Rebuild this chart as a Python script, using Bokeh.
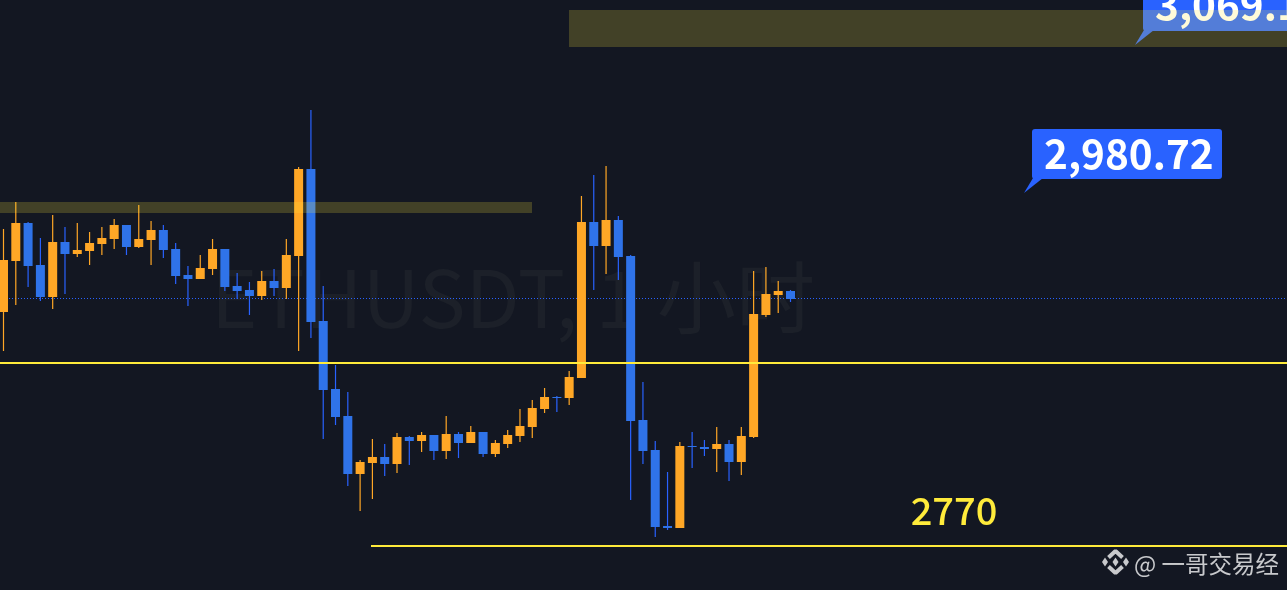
from bokeh.plotting import figure
from bokeh.embed import file_html
from bokeh.resources import INLINE
from bokeh.core.properties import value

opens = [2910.4,2941.0,2963.8,2938.6,2919.4,2952.4,2945.2,2947.0,2951.2,2954.2,2962.6,2949.4,2953.6,2959.6,2948.2,2932.6,2930.2,2936.2,2948.2,2926.0,2923.6,2920.0,2929.0,2924.8,2944.0,2996.2,2905.0,2864.2,2848.0,2813.2,2819.8,2823.4,2819.2,2835.4,2833.0,2836.6,2827.0,2837.2,2831.8,2838.4,2825.2,2831.2,2836.0,2841.4,2852.2,2859.4,2858.8,2870.8,2964.4,2950.0,2965.6,2944.0,2845.6,2827.6,2782.0,2780.8,2830.0,2829.4,2828.2,2831.2,2820.4,2835.4,2908.6,2920.6,2923.0]
highs = [2960.2,2976.4,2964.4,2954.8,2968.6,2961.4,2963.8,2958.4,2961.4,2966.2,2962.6,2974.6,2965.0,2962.6,2951.8,2938.0,2944.6,2954.2,2948.2,2933.8,2928.4,2935.0,2936.2,2954.2,2997.4,3031.6,2926.0,2878.6,2862.4,2821.6,2834.2,2831.2,2837.8,2836.0,2838.4,2836.6,2848.0,2838.4,2842.0,2838.4,2833.6,2839.6,2852.2,2857.6,2864.8,2860.0,2875.0,2980.0,2992.6,2998.0,2968.0,2944.6,2868.4,2833.0,2814.4,2832.4,2838.4,2833.6,2841.4,2833.6,2841.4,2935.0,2937.4,2929.0,2923.6]
lows = [2887.0,2914.6,2925.4,2917.0,2912.2,2921.2,2943.4,2938.6,2944.6,2948.2,2944.6,2948.8,2938.6,2942.8,2927.2,2914.0,2930.2,2932.6,2923.0,2918.2,2908.6,2917.6,2920.0,2918.2,2887.0,2894.8,2834.2,2842.6,2806.0,2791.0,2798.2,2812.0,2813.8,2818.6,2826.4,2821.6,2822.2,2822.8,2831.8,2823.4,2823.4,2828.8,2832.4,2834.8,2849.8,2850.4,2854.6,2870.8,2923.6,2933.2,2929.6,2797.6,2819.2,2775.4,2779.6,2780.8,2816.8,2824.0,2814.4,2809.0,2812.6,2834.8,2907.4,2909.8,2916.4]
closes = [2941.6,2963.8,2938.0,2919.4,2952.4,2945.2,2947.6,2951.8,2954.8,2962.6,2949.4,2954.2,2959.6,2947.6,2932.0,2930.2,2936.8,2948.2,2925.4,2923.0,2920.0,2929.0,2924.8,2944.6,2996.2,2904.4,2863.6,2847.4,2813.2,2820.4,2823.4,2819.2,2835.4,2833.0,2836.6,2827.0,2837.2,2831.8,2838.4,2825.2,2831.8,2836.6,2842.0,2852.8,2859.4,2858.8,2871.4,2964.4,2950.0,2965.6,2943.4,2845.0,2827.0,2781.4,2780.8,2830.0,2829.4,2828.2,2831.2,2820.4,2836.0,2909.2,2921.2,2923.0,2918.2]
level_main = 2770
level_mid = 2879.8
last_price = 2918.5
zone_upper = (3091.6, 3069.4)
zone_lower = (2976.4, 2969.8)
label_a = "2,980.72"
label_b = "3,069.1"
label_level = "2770"
watermark = "ETHUSDT, 1 小时"
credit = "@ 一哥交易经"

UP, DOWN, WICK_DOWN = "#ffa726", "#2f73e9", "#2962ff"
YELLOW = "#ffeb3b"
BG = "#131722"
BADGE = "#2962ff"
CJK = value("Noto Sans CJK SC")

X = lambda px: (px - 3.5) / 12.297
Y = lambda py: 3097.6 - 0.6 * py

p = figure(width=1289, height=592, output_backend="svg", toolbar_location=None,
           x_range=(X(-0.5), X(1288.5)), y_range=(Y(591.5), Y(-0.5)),
           min_border=0, background_fill_color=BG, border_fill_color=BG, outline_line_color=None)
p.xaxis.visible = False
p.yaxis.visible = False
p.grid.visible = False
p.styles = {"position": "fixed", "top": "-1px", "left": "-1px"}

# watermark
p.text([X(513)], [Y(293)], text=[watermark], text_font=CJK, text_font_size="79px",
       text_color="#1c2029", text_align="center", text_baseline="middle")

# last price line
p.segment([X(0)], [last_price], [X(1289)], [last_price], line_color=WICK_DOWN, line_width=1, line_dash="1 2")

# candles
idx = list(range(len(opens)))
wick_c = [UP if c >= o else WICK_DOWN for o, c in zip(opens, closes)]
body_c = [UP if c >= o else DOWN for o, c in zip(opens, closes)]
p.segment(idx, highs, idx, lows, line_color=wick_c, line_width=1.2)
p.vbar(idx, width=9 / 12.297, top=[max(a) for a in zip(opens, closes)], bottom=[min(a) for a in zip(opens, closes)],
       fill_color=body_c, line_color=None)

def badge(l, r, t, b, tip, txt, tx, ty, size):
    p.patch([X(l + 1), X(tip[0]), X(l + 11)], [Y(b - 1), Y(tip[1]), Y(b - 1)], fill_color=BADGE, line_color=None)
    p.quad(left=[X(l)], right=[X(r)], top=[Y(t)], bottom=[Y(b)], fill_color=BADGE, line_color=None, border_radius=3)
    p.text([X(tx)], [Y(ty)], text=[txt], text_font=CJK, text_font_style="bold", text_font_size=size,
           text_color="#ffffff", text_align="left", text_baseline="middle")

badge(1143, 1320, -20, 31, (1135, 45), label_b, 1155, 5, "40.5px")
badge(1032, 1222, 129, 179, (1024, 193), label_a, 1044, 154, "40.5px")

# supply zones
p.quad(left=[X(569)], right=[X(1289)], top=[zone_upper[0]], bottom=[zone_upper[1]], fill_color=YELLOW, fill_alpha=0.2, line_color=None)
p.quad(left=[X(0)], right=[X(532)], top=[zone_lower[0]], bottom=[zone_lower[1]], fill_color=YELLOW, fill_alpha=0.2, line_color=None)

# levels
p.segment([X(0)], [level_mid], [X(1289)], [level_mid], line_color=YELLOW, line_width=2)
p.segment([X(371)], [level_main], [X(1289)], [level_main], line_color=YELLOW, line_width=2)
p.text([X(954)], [Y(510.5)], text=[label_level], text_font=value("Noto Sans CJK SC Medium"), text_font_size="38px",
       text_color=YELLOW, text_align="center", text_baseline="middle")

# credit mark
GREY = "#c8c9cc"
p.scatter([X(1105), X(1126), X(1115.5)], [Y(562), Y(562), Y(562)], marker="diamond", size=9, fill_color=GREY, line_color=None)
p.multi_line([[X(1108.5), X(1115.5), X(1122.5)], [X(1108.5), X(1115.5), X(1122.5)]],
             [[Y(557.5), Y(551), Y(557.5)], [Y(566.5), Y(573), Y(566.5)]], line_color=GREY, line_width=4)
p.text([X(1134)], [Y(563)], text=[credit], text_font=CJK, text_font_size="23.5px",
       text_color=GREY, text_align="left", text_baseline="middle")

open("out.html", "w").write(file_html(p, INLINE))
